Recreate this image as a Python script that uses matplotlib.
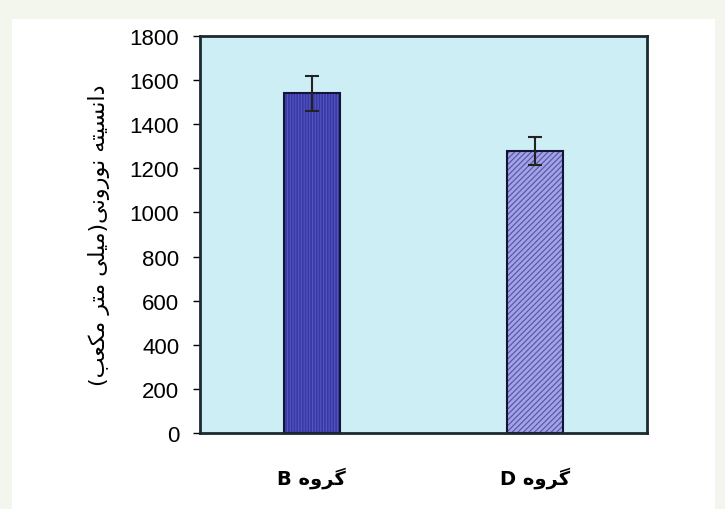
import matplotlib
matplotlib.use("Agg")
import matplotlib.pyplot as plt
from matplotlib.patches import Rectangle

# ---- data ----
categories = ["B", "D"]
values = [1540, 1280]
errors = [80, 63]
yticks = [0, 200, 400, 600, 800, 1000, 1200, 1400, 1600, 1800]

# Persian text built from Arabic presentation forms (logical order), then laid out visually
GROUP = "\uFB94\uFEAE\uFEED\uFEE9"  # گروه
YLABEL_LOGICAL = ("\uFEA9\uFE8D\uFEE7\uFEB4\uFBFF\uFE98\uFEEA" + " " +   # دانسیته
                  "\uFEE7\uFEEE\uFEAD\uFEED\uFEE7\uFBFD" +               # نورونی
                  "(" + "\uFEE3\uFBFF\uFEE0\uFBFD" + " " +               # میلی
                  "\uFEE3\uFE98\uFEAE" + " " +                           # متر
                  "\uFEE3\uFB91\uFECC\uFE90" + ")")                      # مکعب


def visual(s):
    r = s[::-1]
    return r.translate(str.maketrans("()", ")("))


xlabels = [c + " " + visual(GROUP) for c in categories]
ylabel = visual(YLABEL_LOGICAL)

colors = ["#3838a4", "#a2a2e4"]
hatch_colors = ["#5656c2", "#5252a8"]
hatches = ["||||||", "//////"]

fig = plt.figure(figsize=(7.25, 5.1), dpi=100)
fig.patch.set_facecolor("#f3f6ec")
fig.patches.append(Rectangle((12 / 725, 0.0), 703 / 725, 1 - 20 / 510,
                             transform=fig.transFigure, facecolor="white",
                             edgecolor="none", zorder=-5))

ax = fig.add_axes([200 / 725, 1 - 434 / 510, 447 / 725, 397 / 510])
ax.set_facecolor("#cdeef5")

plt.rcParams["hatch.linewidth"] = 0.8
x = list(range(len(categories)))
for i in x:
    ax.bar(i, values[i], width=0.25, color=colors[i], edgecolor=hatch_colors[i],
           linewidth=0, hatch=hatches[i], zorder=2)
    ax.bar(i, values[i], width=0.25, fill=False, edgecolor="#141436",
           linewidth=1.5, zorder=2.5)
    ax.errorbar(i, values[i], yerr=errors[i], fmt="none", ecolor="#222222",
                elinewidth=1.5, capsize=5, capthick=1.5, zorder=3)

ax.set_xlim(-0.5, 1.5)
ax.set_ylim(0, 1800)
ax.set_yticks(yticks)
ax.set_yticklabels([str(t) for t in yticks], fontsize=16, family="Liberation Sans")
ax.set_xticks(x)
ax.set_xticklabels(xlabels, fontsize=14, fontweight="bold",
                   family=["DejaVu Sans"])
ax.tick_params(axis="x", length=0, pad=24)
ax.tick_params(axis="y", direction="out", length=5, width=1, pad=10)
for sp in ax.spines.values():
    sp.set_linewidth(2)
    sp.set_color("#1b2a30")

ax.set_ylabel(ylabel, fontsize=16, family=["DejaVu Sans"], labelpad=14)

fig.savefig("out.png", dpi=100)
